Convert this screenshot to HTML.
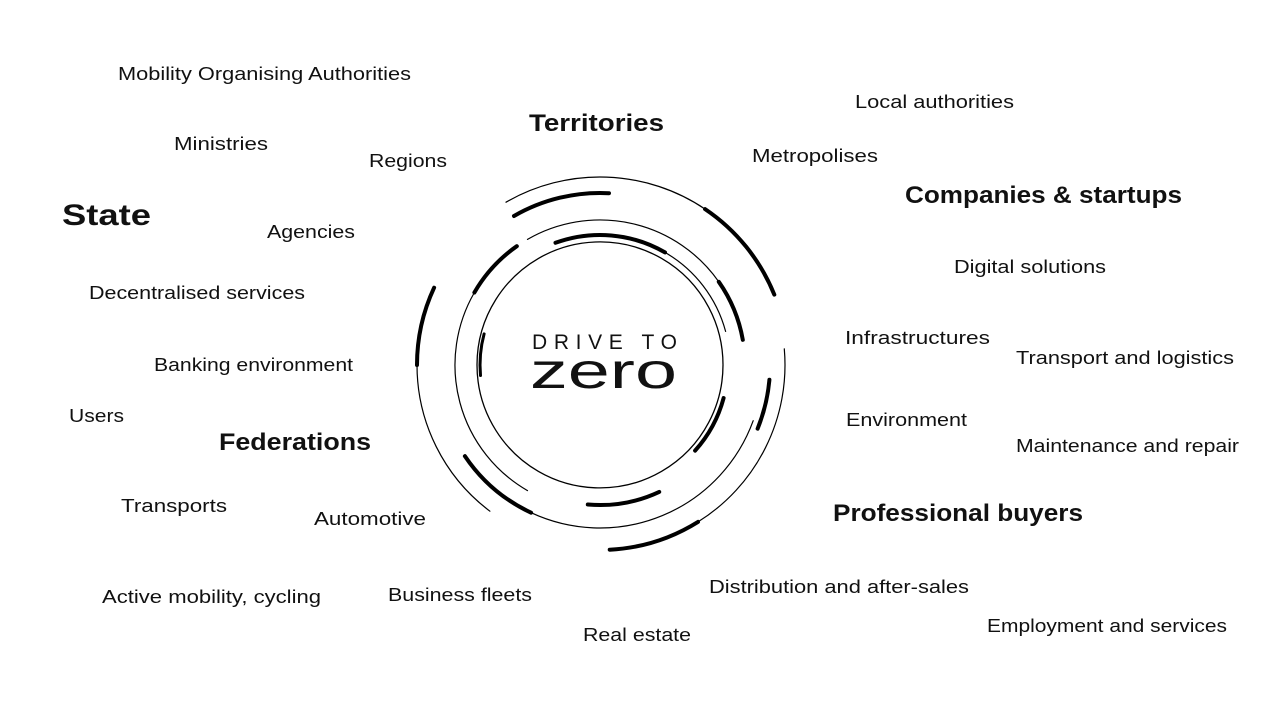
<!DOCTYPE html>
<html><head><meta charset="utf-8"><style>
html,body{margin:0;padding:0;background:#fff;}
svg{display:block;}
text{font-family:"Liberation Sans",sans-serif;fill:#111;}
.l{font-size:18px;}
.b{font-size:24px;font-weight:bold;}
</style></head><body>
<svg id="s" width="1280" height="720" viewBox="0 0 1280 720" xmlns="http://www.w3.org/2000/svg">
<g id="arcs" fill="none" stroke="#000" stroke-linecap="round"></g>
<text class="l" x="118" y="80" textLength="293" lengthAdjust="spacingAndGlyphs">Mobility Organising Authorities</text>
<text class="l" x="174" y="150" textLength="94" lengthAdjust="spacingAndGlyphs">Ministries</text>
<text class="l" x="369" y="167" textLength="78" lengthAdjust="spacingAndGlyphs">Regions</text>
<text x="62" y="225" style="font-size:30px;font-weight:bold" textLength="89" lengthAdjust="spacingAndGlyphs">State</text>
<text class="l" x="267" y="238" textLength="88" lengthAdjust="spacingAndGlyphs">Agencies</text>
<text class="b" x="529" y="131" textLength="135" lengthAdjust="spacingAndGlyphs">Territories</text>
<text class="l" x="855" y="108" textLength="159" lengthAdjust="spacingAndGlyphs">Local authorities</text>
<text class="l" x="752" y="162" textLength="126" lengthAdjust="spacingAndGlyphs">Metropolises</text>
<text class="b" x="905" y="203" textLength="277" lengthAdjust="spacingAndGlyphs">Companies &amp; startups</text>
<text class="l" x="954" y="273" textLength="152" lengthAdjust="spacingAndGlyphs">Digital solutions</text>
<text class="l" x="89" y="299" textLength="216" lengthAdjust="spacingAndGlyphs">Decentralised services</text>
<text class="l" x="154" y="371" textLength="199" lengthAdjust="spacingAndGlyphs">Banking environment</text>
<text class="l" x="845" y="344" textLength="145" lengthAdjust="spacingAndGlyphs">Infrastructures</text>
<text class="l" x="1016" y="364" textLength="218" lengthAdjust="spacingAndGlyphs">Transport and logistics</text>
<text class="l" x="69" y="422" textLength="55" lengthAdjust="spacingAndGlyphs">Users</text>
<text class="b" x="219" y="450" textLength="152" lengthAdjust="spacingAndGlyphs">Federations</text>
<text class="l" x="846" y="426" textLength="121" lengthAdjust="spacingAndGlyphs">Environment</text>
<text class="l" x="1016" y="452" textLength="223" lengthAdjust="spacingAndGlyphs">Maintenance and repair</text>
<text class="l" x="121" y="512" textLength="106" lengthAdjust="spacingAndGlyphs">Transports</text>
<text class="l" x="314" y="525" textLength="112" lengthAdjust="spacingAndGlyphs">Automotive</text>
<text class="b" x="833" y="521" textLength="250" lengthAdjust="spacingAndGlyphs">Professional buyers</text>
<text class="l" x="709" y="593" textLength="260" lengthAdjust="spacingAndGlyphs">Distribution and after-sales</text>
<text class="l" x="102" y="603" textLength="219" lengthAdjust="spacingAndGlyphs">Active mobility, cycling</text>
<text class="l" x="388" y="601" textLength="144" lengthAdjust="spacingAndGlyphs">Business fleets</text>
<text class="l" x="583" y="641" textLength="108" lengthAdjust="spacingAndGlyphs">Real estate</text>
<text class="l" x="987" y="632" textLength="240" lengthAdjust="spacingAndGlyphs">Employment and services</text>
<text x="532" y="349" style="font-size:21px" textLength="145" lengthAdjust="spacing">DRIVE TO</text>
<text x="530" y="388" style="font-size:50px" textLength="147" lengthAdjust="spacingAndGlyphs">zero</text>
</svg>
<script>
var g=document.getElementById('arcs'),cx=600,cy=365;
function arc(r,a1,a2,w){
 var p=function(a){a=a*Math.PI/180;return (cx+r*Math.cos(a)).toFixed(1)+' '+(cy+r*Math.sin(a)).toFixed(1);};
 var large=(a2-a1)>180?1:0;
 var e=document.createElementNS('http://www.w3.org/2000/svg','path');
 e.setAttribute('d','M'+p(a1)+' A'+r+' '+r+' 0 '+large+' 1 '+p(a2));
 e.setAttribute('stroke-width',w);g.appendChild(e);
}
arc(123,0,359.9,1.3);
arc(130,250,300,4);
arc(130,300,345,1.2);
arc(145,-35,-10,4);
arc(145,-120,-35,1.2);
arc(145,210,235,4);
arc(145,120,210,1.2);
arc(140,65,95,4);
arc(128,15,42,4);
arc(120,175,195,3);
arc(188,-120,-56,1.2);
arc(188,-56,-22,4);
arc(172,240,273,4);
arc(170,5,22,4);
arc(183,180,205,4);
arc(183,127,180,1.2);
arc(163,115,146,4);
arc(163,20,115,1.2);
arc(185,58,87,4);
arc(185,-5,58,1.2);
</script>
</body></html>
